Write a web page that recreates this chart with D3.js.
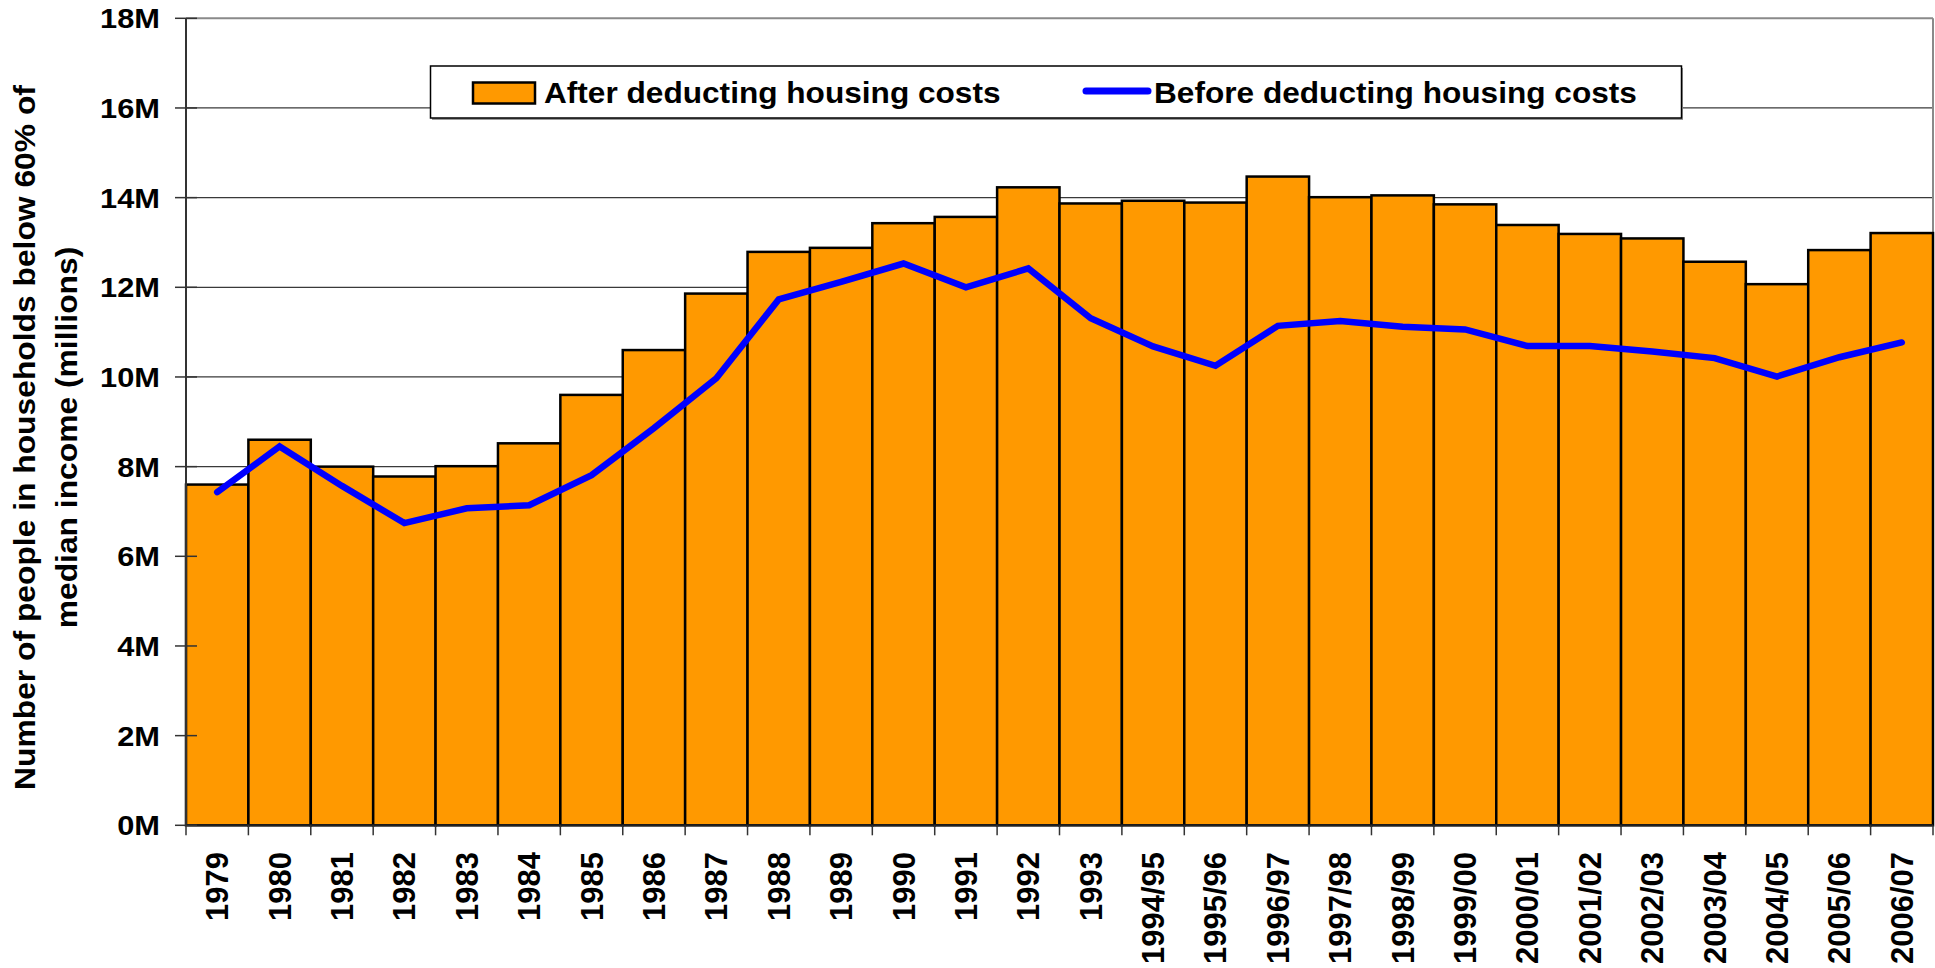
<!DOCTYPE html>
<html>
<head>
<meta charset="utf-8">
<script src="https://cdnjs.cloudflare.com/ajax/libs/d3/7.8.5/d3.min.js"></script>
<style>
    html, body { margin: 0; padding: 0; background: #fff; }
    #chart { width: 1935px; height: 968px; }
    text { font-family: "Liberation Sans", Arial, sans-serif; font-weight: bold; fill: #000; }
</style>
</head>
<body>
<div id="chart"></div>
<script>
// values, in millions of people
var years = ["1979", "1980", "1981", "1982", "1983", "1984", "1985", "1986", "1987", "1988",
    "1989", "1990", "1991", "1992", "1993", "1994/95", "1995/96", "1996/97", "1997/98", "1998/99",
    "1999/00", "2000/01", "2001/02", "2002/03", "2003/04", "2004/05", "2005/06", "2006/07"];
var afterHousing = [7.6, 8.6, 8.0, 7.78, 8.01, 8.52, 9.6, 10.6, 11.86, 12.79,
    12.88, 13.43, 13.57, 14.23, 13.87, 13.93, 13.89, 14.47, 14.01, 14.05,
    13.85, 13.39, 13.19, 13.09, 12.57, 12.07, 12.83, 13.21];
var beforeHousing = [7.43, 8.45, 7.57, 6.74, 7.07, 7.14, 7.81, 8.86, 9.97, 11.73,
    12.12, 12.53, 12.0, 12.42, 11.31, 10.68, 10.25, 11.14, 11.25, 11.12,
    11.06, 10.69, 10.69, 10.57, 10.42, 10.01, 10.44, 10.77];
var yTicks = [0, 2, 4, 6, 8, 10, 12, 14, 16, 18];
var legendLabels = ["After deducting housing costs", "Before deducting housing costs"];
var yTitle = ["Number of people in households below 60% of", "median income (millions)"];

var width = 1935, height = 968;
var plotLeft = 186, plotRight = 1933, plotTop = 18.3, plotBottom = 825.3;

var svg = d3.select("#chart").append("svg")
    .attr("width", width)
    .attr("height", height);

var x = d3.scaleBand()
    .domain(years)
    .range([plotLeft, plotRight])
    .padding(0);

var y = d3.scaleLinear()
    .domain([0, 18])
    .range([plotBottom, plotTop]);

// text that is a little wider than Liberation Sans, like the original
function label(g, px, py, str, size, kx, rot, anchor) {
    return g.append("text")
        .attr("transform", "translate(" + px + "," + py + ") rotate(" + rot + ") scale(" + kx + ",1)")
        .attr("text-anchor", anchor)
        .style("font-size", size + "px")
        .text(str);
}

// gridlines
svg.append("g").selectAll("line")
    .data(yTicks.filter(function (t) { return t > 0; }))
    .enter().append("line")
    .attr("x1", plotLeft)
    .attr("x2", plotRight)
    .attr("y1", function (t) { return y(t); })
    .attr("y2", function (t) { return y(t); })
    .attr("stroke", function (t) { return t === 18 ? "#8a8a8a" : "#3a3a3a"; })
    .attr("stroke-width", function (t) { return t === 18 ? 2 : 1.2; });

// right border of the plot
svg.append("line")
    .attr("x1", plotRight).attr("x2", plotRight)
    .attr("y1", y(18)).attr("y2", y(0))
    .attr("stroke", "#8a8a8a")
    .attr("stroke-width", 2);

// bars
svg.append("g").selectAll("rect")
    .data(afterHousing)
    .enter().append("rect")
    .attr("x", function (d, i) { return x(years[i]); })
    .attr("y", function (d) { return y(d); })
    .attr("width", x.bandwidth())
    .attr("height", function (d) { return y(0) - y(d); })
    .attr("fill", "#ff9900")
    .attr("stroke", "#000")
    .attr("stroke-width", 2.5);

// axes lines
svg.append("line")
    .attr("x1", plotLeft).attr("x2", plotLeft)
    .attr("y1", y(18)).attr("y2", y(0))
    .attr("stroke", "#333").attr("stroke-width", 2);
svg.append("line")
    .attr("x1", plotLeft).attr("x2", plotRight)
    .attr("y1", y(0)).attr("y2", y(0))
    .attr("stroke", "#222").attr("stroke-width", 2);

// y ticks + labels
svg.append("g").selectAll("line")
    .data(yTicks)
    .enter().append("line")
    .attr("x1", plotLeft - 11).attr("x2", plotLeft + 11)
    .attr("y1", function (t) { return y(t); })
    .attr("y2", function (t) { return y(t); })
    .attr("stroke", "#333").attr("stroke-width", 1.5);

var yLabels = svg.append("g");
yTicks.forEach(function (t) {
    label(yLabels, 160, y(t) + 10, t + "M", 28, 1.1, 0, "end");
});

// x ticks on the band edges
var edges = years.map(function (d) { return x(d); }).concat([plotRight]);
svg.append("g").selectAll("line")
    .data(edges)
    .enter().append("line")
    .attr("x1", function (d) { return d; })
    .attr("x2", function (d) { return d; })
    .attr("y1", y(0)).attr("y2", y(0) + 10)
    .attr("stroke", "#333").attr("stroke-width", 1.5);

var xLabels = svg.append("g");
years.forEach(function (d) {
    label(xLabels, x(d) + x.bandwidth() / 2 + 11, 852, d, 31, 1, -90, "end");
});

// line series
var line = d3.line()
    .x(function (d, i) { return x(years[i]) + x.bandwidth() / 2; })
    .y(function (d) { return y(d); });

svg.append("path")
    .datum(beforeHousing)
    .attr("d", line)
    .attr("fill", "none")
    .attr("stroke", "#0000ff")
    .attr("stroke-width", 6.5)
    .attr("stroke-linecap", "round")
    .attr("stroke-linejoin", "miter");

// y axis title, two lines
var titleG = svg.append("g");
label(titleG, 35, 437.5, yTitle[0], 30, 1.06, -90, "middle");
label(titleG, 77, 437.5, yTitle[1], 30, 1.06, -90, "middle");

// legend
var legend = svg.append("g");
legend.append("rect")
    .attr("x", 432).attr("y", 68)
    .attr("width", 1251).attr("height", 52)
    .attr("fill", "#999");
legend.append("rect")
    .attr("x", 430.5).attr("y", 66)
    .attr("width", 1251).attr("height", 52)
    .attr("fill", "#fff")
    .attr("stroke", "#000")
    .attr("stroke-width", 1.5);
legend.append("rect")
    .attr("x", 473).attr("y", 82.5)
    .attr("width", 62).attr("height", 21)
    .attr("fill", "#ff9900")
    .attr("stroke", "#000")
    .attr("stroke-width", 2.5);
label(legend, 544, 102.5, legendLabels[0], 29, 1.09, 0, "start");
legend.append("line")
    .attr("x1", 1086).attr("x2", 1148)
    .attr("y1", 91).attr("y2", 91)
    .attr("stroke", "#0000ff")
    .attr("stroke-width", 7)
    .attr("stroke-linecap", "round");
label(legend, 1154, 102.5, legendLabels[1], 29, 1.09, 0, "start");
</script>
</body>
</html>
